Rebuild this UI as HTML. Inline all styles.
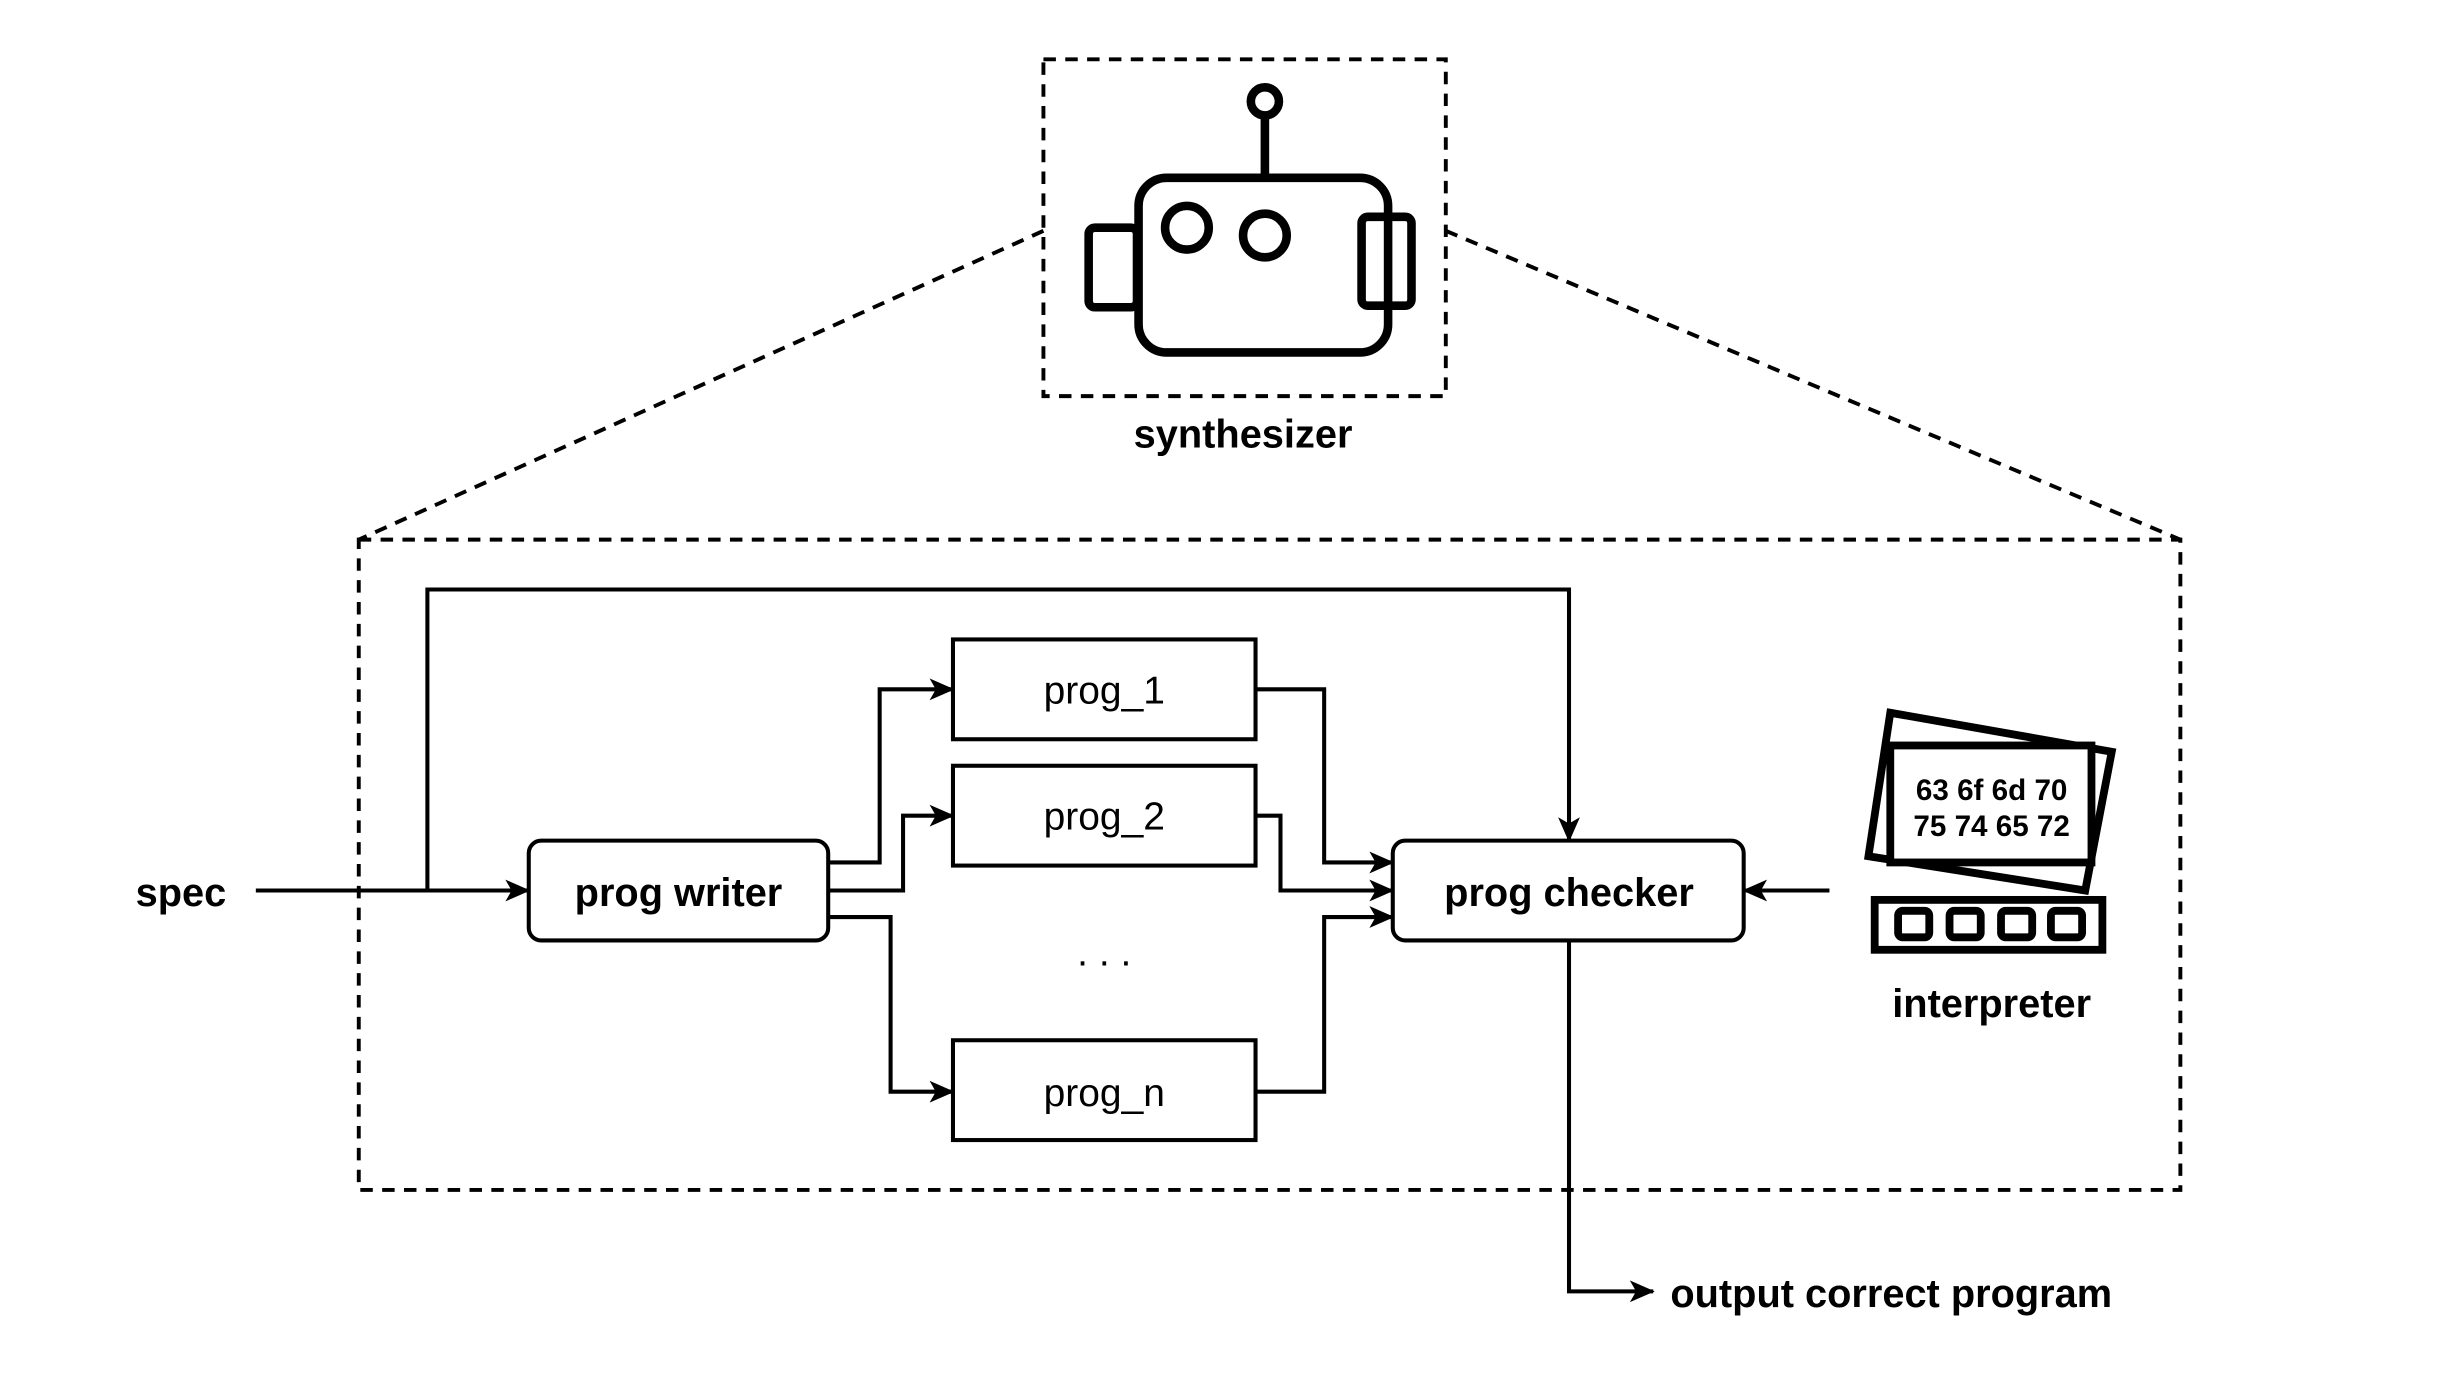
<!DOCTYPE html>
<html><head><meta charset="utf-8"><style>
html,body{margin:0;padding:0;background:#fff;}
svg{display:block;}
text{font-family:"Liberation Sans",Arial,sans-serif;fill:#000;}
</style></head><body>
<svg width="2444" height="1374" viewBox="0 0 1567 881" xmlns="http://www.w3.org/2000/svg">
<defs>
<marker id="a" markerWidth="16" markerHeight="14" refX="15" refY="7" orient="auto" markerUnits="userSpaceOnUse" viewBox="0 0 16 14">
<path d="M0,0 L16,7 L0,14 L4,7 Z" fill="#000"/>
</marker>
</defs>
<g fill="none" stroke="#000" stroke-width="2.5" stroke-dasharray="8,6">
<rect x="669" y="38" width="258" height="216"/>
<line x1="669" y1="148" x2="230" y2="346"/>
<line x1="927" y1="148" x2="1398" y2="346"/>
<rect x="230" y="346" width="1168" height="417"/>
</g>
<!-- robot -->
<g fill="none" stroke="#000" stroke-width="5.5">
<rect x="730" y="114" width="160" height="112" rx="18"/>
<rect x="698" y="146" width="31" height="51" rx="4"/>
<rect x="873" y="139" width="32" height="57" rx="4"/>
<circle cx="761" cy="146" r="14"/>
<circle cx="811" cy="151" r="14"/>
<circle cx="811" cy="65" r="9"/>
<line x1="811" y1="74" x2="811" y2="114"/>
</g>
<text x="797" y="287" font-size="25.5" font-weight="bold" text-anchor="middle">synthesizer</text>
<!-- connectors -->
<g fill="none" stroke="#000" stroke-width="2.6">
<line x1="164" y1="571" x2="339" y2="571" marker-end="url(#a)"/>
<polyline points="274,571 274,378 1006,378 1006,539" marker-end="url(#a)"/>
<polyline points="531,553 564,553 564,442 611,442" marker-end="url(#a)"/>
<polyline points="531,571 579,571 579,523 611,523" marker-end="url(#a)"/>
<polyline points="531,588 571,588 571,700 611,700" marker-end="url(#a)"/>
<polyline points="805,442 849,442 849,553 893,553" marker-end="url(#a)"/>
<polyline points="805,523 821,523 821,571 893,571" marker-end="url(#a)"/>
<polyline points="805,700 849,700 849,588 893,588" marker-end="url(#a)"/>
<line x1="1173" y1="571" x2="1118" y2="571" marker-end="url(#a)"/>
<polyline points="1006,603 1006,828 1060,828" marker-end="url(#a)"/>
</g>
<!-- boxes -->
<g fill="#fff" stroke="#000" stroke-width="2.6">
<rect x="339" y="539" width="192" height="64" rx="8"/>
<rect x="893" y="539" width="225" height="64" rx="8"/>
<rect x="611" y="410" width="194" height="64"/>
<rect x="611" y="491" width="194" height="64"/>
<rect x="611" y="667" width="194" height="64"/>
</g>
<text x="116" y="581" font-size="25.5" font-weight="bold" text-anchor="middle">spec</text>
<text x="435" y="581" font-size="25.5" font-weight="bold" text-anchor="middle">prog writer</text>
<text x="1006" y="581" font-size="25.5" font-weight="bold" text-anchor="middle">prog checker</text>
<text x="708" y="451" font-size="25" text-anchor="middle">prog_1</text>
<text x="708" y="532" font-size="25" text-anchor="middle">prog_2</text>
<text x="708" y="709" font-size="25" text-anchor="middle">prog_n</text>
<text x="708" y="619" font-size="25" text-anchor="middle">. . .</text>
<!-- interpreter -->
<g fill="#fff" stroke="#000" stroke-width="5">
<polygon points="1212,457 1354,482 1337,571 1198,549"/>
<rect x="1212" y="478" width="129" height="75"/>
<rect x="1202" y="577" width="146" height="32"/>
<rect x="1217" y="584" width="20" height="17" rx="3"/>
<rect x="1250" y="584" width="20" height="17" rx="3"/>
<rect x="1283" y="584" width="20" height="17" rx="3"/>
<rect x="1315" y="584" width="20" height="17" rx="3"/>
</g>
<text x="1277" y="513" font-size="19" font-weight="bold" text-anchor="middle">63 6f 6d 70</text>
<text x="1277" y="536" font-size="19" font-weight="bold" text-anchor="middle">75 74 65 72</text>
<text x="1277" y="652" font-size="25.5" font-weight="bold" text-anchor="middle">interpreter</text>
<text x="1071" y="838" font-size="25.5" font-weight="bold">output correct program</text>
</svg>
</body></html>
